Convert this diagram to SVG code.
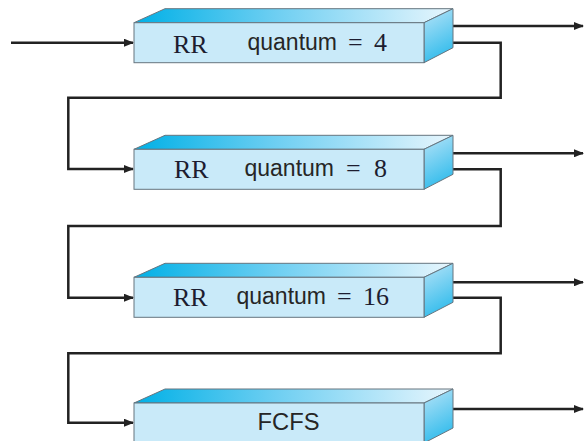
<svg xmlns="http://www.w3.org/2000/svg" width="584" height="441" viewBox="0 0 584 441">
<style>
.front{fill:#c9eaf9;stroke:#66757f;stroke-width:1}
.top{fill:url(#topGrad);stroke:#66757f;stroke-width:1}
.side{fill:url(#sideGrad);stroke:#66757f;stroke-width:1}
.rr{font-family:"Liberation Serif","Times New Roman",serif;font-size:26px;fill:#1d1d30}
.sans{font-family:"Liberation Sans",Arial,sans-serif;font-size:23px;fill:#262626}
.num{font-family:"Liberation Serif","Times New Roman",serif;font-size:26px;fill:#1d1d30}
.conn{fill:none;stroke:#222;stroke-width:2.5}
</style>
<defs>
<linearGradient id="topGrad" x1="0" y1="0" x2="1" y2="0">
<stop offset="0" stop-color="#00b0e6"/>
<stop offset="0.45" stop-color="#6fcff2"/>
<stop offset="1" stop-color="#e8f6fd"/>
</linearGradient>
<linearGradient id="sideGrad" x1="0" y1="0" x2="0.3" y2="1">
<stop offset="0" stop-color="#b8e4f8"/>
<stop offset="1" stop-color="#36bdec"/>
</linearGradient>
<marker id="arr" markerWidth="10" markerHeight="8" refX="9" refY="4" orient="auto" markerUnits="userSpaceOnUse">
<path d="M0,0 L10,4 L0,8 z" fill="#222"/>
</marker>
<g id="box3d">
<polygon class="top" points="134,14 165,0 453,0 424,14"/>
<polygon class="side" points="424,14 453,0 453,39 424,54"/>
<rect class="front" x="134" y="14" width="290" height="40"/>
</g>
</defs>
<g id="connectors">
<path class="conn" d="M11,42.7 H133" marker-end="url(#arr)"/>
<path class="conn" d="M441,26 H583" marker-end="url(#arr)"/>
<path class="conn" d="M441,42.7 H500.7 V97.7 H68.3 V169 H133" marker-end="url(#arr)"/>
<path class="conn" d="M441,153.3 H583" marker-end="url(#arr)"/>
<path class="conn" d="M441,169.3 H500.7 V226 H68.3 V297.7 H133" marker-end="url(#arr)"/>
<path class="conn" d="M441,282.3 H583" marker-end="url(#arr)"/>
<path class="conn" d="M441,297.7 H500.7 V353.3 H68.3 V422.7 H133" marker-end="url(#arr)"/>
<path class="conn" d="M441,409 H583" marker-end="url(#arr)"/>
</g>
<g id="q1">
<use href="#box3d" transform="translate(0,8.7)"/>
<text class="rr" x="173" y="53">RR</text>
<text class="sans" x="247.5" y="50">quantum</text>
<text class="num" x="348" y="50.5">=</text>
<text class="num" x="374" y="51">4</text>
</g>
<g id="q2">
<use href="#box3d" transform="translate(0,135.3)"/>
<text class="rr" x="174" y="178">RR</text>
<text class="sans" x="244.5" y="176">quantum</text>
<text class="num" x="346" y="176.5">=</text>
<text class="num" x="374" y="177">8</text>
</g>
<g id="q3">
<use href="#box3d" transform="translate(0,263.3)"/>
<text class="rr" x="173" y="306">RR</text>
<text class="sans" x="236.5" y="304">quantum</text>
<text class="num" x="337" y="304.5">=</text>
<text class="num" x="363" y="305">16</text>
</g>
<g id="q4">
<use href="#box3d" transform="translate(0,389)"/>
<text class="sans" x="257.5" y="430" font-size="19" textLength="62" lengthAdjust="spacingAndGlyphs">FCFS</text>
</g>
</svg>
